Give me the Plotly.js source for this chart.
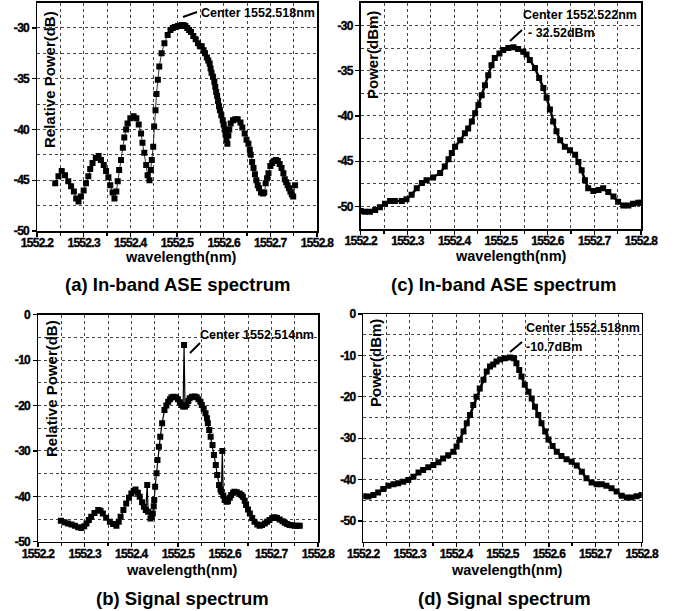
<!DOCTYPE html>
<html>
<head>
<meta charset="utf-8">
<script src="https://cdn.plot.ly/plotly-3.0.1.min.js"></script>
<style>
html,body{margin:0;padding:0;background:#fff;}
#chart{width:687px;height:611px;}
.xaxislayer-above text, .yaxislayer-above text, .xtick text, .ytick text {
  letter-spacing: -0.7px; font-weight: 700 !important; stroke: #000; stroke-width: 0.35px;
}
</style>
</head>
<body>
<div id="chart"></div>
<script>
// ---------- data (a) In-band ASE spectrum, relative power ----------
var aWavelength = [1552.239,1552.246,1552.253,1552.260,1552.267,1552.273,1552.279,1552.284,1552.289,1552.294,1552.300,1552.305,1552.310,1552.314,1552.319,1552.326,1552.332,1552.337,1552.343,1552.348,1552.353,1552.357,1552.362,1552.366,1552.370,1552.373,1552.376,1552.380,1552.384,1552.387,1552.391,1552.394,1552.400,1552.407,1552.413,1552.418,1552.423,1552.426,1552.430,1552.434,1552.437,1552.441,1552.444,1552.446,1552.449,1552.451,1552.454,1552.456,1552.459,1552.462,1552.467,1552.473,1552.480,1552.486,1552.491,1552.495,1552.498,1552.502,1552.506,1552.510,1552.514,1552.518,1552.522,1552.526,1552.530,1552.535,1552.540,1552.545,1552.549,1552.553,1552.557,1552.560,1552.564,1552.567,1552.570,1552.572,1552.574,1552.577,1552.580,1552.582,1552.584,1552.586,1552.588,1552.590,1552.592,1552.595,1552.598,1552.600,1552.602,1552.604,1552.606,1552.608,1552.610,1552.612,1552.615,1552.620,1552.625,1552.630,1552.636,1552.640,1552.645,1552.649,1552.653,1552.656,1552.658,1552.661,1552.664,1552.667,1552.670,1552.673,1552.676,1552.680,1552.684,1552.687,1552.690,1552.693,1552.696,1552.700,1552.704,1552.708,1552.712,1552.716,1552.720,1552.724,1552.728,1552.731,1552.734,1552.737,1552.740,1552.743,1552.746,1552.749,1552.753];
var aPower = [-45.3,-44.6,-44.1,-44.5,-45.1,-45.6,-46.1,-46.8,-47.1,-46.6,-46.0,-45.3,-44.6,-43.9,-43.3,-42.8,-42.6,-43.0,-43.5,-44.1,-44.7,-45.5,-46.2,-46.8,-46.1,-45.1,-44.0,-43.0,-41.8,-40.8,-40.0,-39.4,-38.9,-38.7,-38.9,-39.5,-40.4,-41.3,-42.3,-43.5,-44.5,-45.0,-44.0,-43.0,-41.7,-39.7,-38.1,-36.5,-35.1,-33.8,-32.5,-31.5,-30.7,-30.2,-30.0,-29.9,-29.9,-29.8,-29.8,-29.7,-29.7,-29.8,-30.0,-30.2,-30.4,-30.8,-31.1,-31.5,-31.8,-31.8,-32.2,-32.5,-32.9,-33.2,-33.5,-34.0,-34.4,-34.8,-35.3,-35.8,-36.3,-36.7,-37.2,-37.7,-38.1,-38.6,-39.1,-39.5,-40.0,-40.5,-41.0,-41.4,-40.6,-40.0,-39.4,-39.1,-39.0,-39.0,-39.3,-39.8,-40.4,-41.0,-41.4,-42.0,-42.5,-43.2,-43.8,-44.4,-45.0,-45.5,-45.8,-46.2,-46.3,-46.2,-45.3,-44.8,-44.3,-43.6,-43.3,-43.1,-43.0,-43.1,-43.4,-43.8,-44.3,-44.9,-45.2,-45.5,-45.8,-46.1,-46.4,-46.6,-45.5];

// ---------- data (b) Signal spectrum, relative power ----------
var bWavelength = [1552.249,1552.257,1552.264,1552.272,1552.279,1552.286,1552.293,1552.299,1552.304,1552.309,1552.314,1552.321,1552.329,1552.334,1552.339,1552.346,1552.354,1552.361,1552.368,1552.373,1552.377,1552.383,1552.389,1552.395,1552.400,1552.405,1552.409,1552.414,1552.418,1552.423,1552.427,1552.431,1552.434,1552.436,1552.441,1552.444,1552.446,1552.448,1552.449,1552.451,1552.454,1552.456,1552.459,1552.462,1552.466,1552.471,1552.475,1552.479,1552.483,1552.486,1552.491,1552.496,1552.500,1552.504,1552.508,1552.511,1552.513,1552.515,1552.518,1552.522,1552.525,1552.530,1552.536,1552.540,1552.544,1552.548,1552.551,1552.555,1552.559,1552.562,1552.564,1552.567,1552.570,1552.574,1552.577,1552.581,1552.584,1552.588,1552.591,1552.593,1552.595,1552.597,1552.600,1552.604,1552.607,1552.611,1552.614,1552.618,1552.621,1552.626,1552.632,1552.636,1552.639,1552.643,1552.646,1552.650,1552.654,1552.659,1552.664,1552.670,1552.675,1552.680,1552.686,1552.691,1552.696,1552.702,1552.707,1552.712,1552.718,1552.724,1552.729,1552.734,1552.739,1552.745,1552.750,1552.756,1552.761];
var bPower = [-45.4,-45.7,-46.0,-46.2,-46.5,-46.8,-47.0,-46.6,-46.0,-45.2,-44.5,-43.7,-43.0,-43.2,-43.8,-44.7,-45.6,-46.1,-46.5,-45.6,-44.5,-43.0,-41.6,-40.3,-39.4,-38.8,-38.5,-39.2,-40.1,-41.3,-42.3,-43.0,-37.5,-43.4,-44.9,-44.5,-43.8,-42.2,-40.8,-37.9,-34.9,-32.0,-29.1,-26.9,-23.9,-21.0,-20.0,-19.2,-18.6,-18.2,-18.1,-18.2,-18.6,-19.3,-19.9,-20.2,-6.7,-20.2,-19.9,-19.0,-18.4,-18.1,-18.0,-18.2,-18.6,-19.2,-19.9,-20.7,-21.7,-22.8,-23.9,-25.4,-26.9,-28.7,-30.9,-33.1,-35.3,-37.5,-38.5,-39.0,-30.0,-39.8,-40.8,-41.2,-41.1,-40.3,-39.7,-39.2,-39.0,-39.1,-39.4,-39.7,-40.1,-41.0,-41.9,-42.9,-43.8,-44.8,-45.6,-46.2,-46.5,-46.3,-46.0,-45.6,-45.2,-44.8,-44.6,-44.8,-45.1,-45.5,-45.8,-46.1,-46.3,-46.4,-46.5,-46.5,-46.5];

// ---------- data (c) In-band ASE spectrum, power ----------
var cWavelength = [1552.200,1552.209,1552.220,1552.231,1552.241,1552.252,1552.263,1552.273,1552.288,1552.298,1552.309,1552.320,1552.331,1552.341,1552.355,1552.370,1552.380,1552.388,1552.395,1552.402,1552.413,1552.423,1552.430,1552.438,1552.445,1552.452,1552.459,1552.466,1552.473,1552.480,1552.487,1552.497,1552.505,1552.516,1552.527,1552.537,1552.548,1552.555,1552.562,1552.573,1552.582,1552.591,1552.598,1552.605,1552.612,1552.619,1552.627,1552.637,1552.648,1552.659,1552.666,1552.673,1552.680,1552.687,1552.698,1552.709,1552.719,1552.730,1552.741,1552.751,1552.762,1552.773,1552.783,1552.794,1552.800];
var cPower = [-50.5,-50.6,-50.6,-50.4,-50.1,-49.7,-49.4,-49.4,-49.4,-49.2,-48.7,-48.0,-47.4,-47.1,-46.8,-46.3,-45.6,-44.8,-44.1,-43.4,-42.7,-41.9,-41.4,-40.6,-39.7,-38.8,-37.7,-36.6,-35.5,-34.4,-33.6,-33.1,-32.7,-32.5,-32.4,-32.6,-32.9,-33.2,-33.8,-34.7,-35.8,-36.9,-38.0,-39.3,-40.6,-41.7,-42.7,-43.4,-43.8,-44.3,-45.1,-46.0,-47.1,-48.0,-48.3,-48.2,-48.0,-48.4,-48.9,-49.5,-49.9,-49.9,-49.7,-49.6,-49.6];

// ---------- data (d) Signal spectrum, power ----------
var dWavelength = [1552.200,1552.211,1552.222,1552.232,1552.243,1552.254,1552.265,1552.275,1552.286,1552.297,1552.308,1552.319,1552.329,1552.340,1552.351,1552.362,1552.372,1552.383,1552.394,1552.401,1552.408,1552.416,1552.423,1552.430,1552.437,1552.444,1552.451,1552.459,1552.466,1552.473,1552.480,1552.487,1552.495,1552.505,1552.516,1552.525,1552.530,1552.536,1552.541,1552.548,1552.556,1552.563,1552.570,1552.577,1552.584,1552.592,1552.599,1552.608,1552.617,1552.627,1552.638,1552.649,1552.660,1552.671,1552.681,1552.692,1552.703,1552.714,1552.724,1552.735,1552.746,1552.757,1552.768,1552.778,1552.789,1552.800];
var dPower = [-44.0,-44.1,-43.7,-43.1,-42.3,-41.5,-41.1,-40.9,-40.5,-40.1,-39.3,-38.3,-37.7,-37.0,-36.5,-35.8,-34.9,-34.1,-33.3,-32.0,-30.4,-28.4,-26.4,-24.4,-22.0,-20.0,-18.0,-15.9,-13.9,-12.7,-12.2,-11.5,-11.0,-10.7,-10.5,-10.7,-11.9,-13.5,-15.1,-17.1,-18.8,-20.4,-22.4,-24.4,-26.4,-28.4,-30.3,-31.9,-33.3,-34.3,-35.1,-35.7,-36.6,-38.1,-39.7,-40.7,-41.1,-41.1,-41.5,-42.1,-42.9,-43.9,-44.3,-44.3,-44.0,-43.7];

// ---------- tick values / labels ----------
var xTickVals = [1552.2, 1552.3, 1552.4, 1552.5, 1552.6, 1552.7, 1552.8];
var xTickLabels = ["1552.2", "1552.3", "1552.4", "1552.5", "1552.6", "1552.7", "1552.8"];
var yTickValsAC = [-50, -45, -40, -35, -30];
var yTickLabelsAC = ["-50", "-45", "-40", "-35", "-30"];
var yTickValsBD = [-50, -40, -30, -20, -10, 0];
var yTickLabelsBD = ["-50", "-40", "-30", "-20", "-10", "0"];

// ---------- text ----------
var xTitle = "wavelength(nm)";
var yTitles = ["Relative Power(dB)", "Relative Power(dB)", "Power(dBm)", "Power(dBm)"];
var captions = ["(a) In-band ASE spectrum", "(b) Signal spectrum", "(c) In-band ASE spectrum", "(d) Signal spectrum"];
var centerLabels = ["Center 1552.518nm", "Center 1552.514nm", "Center 1552.522nm", "Center 1552.518nm"];
var peakLabels = ["- 32.52dBm", "-10.7dBm"];

// ---------- layout ----------
var W = 687, H = 611;
function px(x){ return x / W; }
function py(y){ return 1 - y / H; }
function bold(arr){ return arr.map(function(s){ return '<b>' + s + '</b>'; }); }
var NARROW = "Liberation Sans Narrow, Arial Narrow, Liberation Sans, Arial, sans-serif";
var WIDE = "Liberation Sans, Arial, sans-serif";

function mkTrace(x, y, xa, ya, lw, ms){
  return {x: x, y: y, xaxis: xa, yaxis: ya, type: 'scatter', mode: 'lines+markers',
    line: {color: '#000', width: lw}, marker: {symbol: 'square', size: ms, color: '#000'},
    hoverinfo: 'skip', showlegend: false};
}
var data = [
  mkTrace(aWavelength, aPower, 'x', 'y', 0.8, 6),
  mkTrace(bWavelength, bPower, 'x2', 'y2', 1.2, 6),
  mkTrace(cWavelength, cPower, 'x3', 'y3', 2.5, 6),
  mkTrace(dWavelength, dPower, 'x4', 'y4', 2.5, 6)
];

var gridC = '#444';
var tickFont = {family: WIDE, size: 12, color: '#000', weight: 700};
function xAxis(dom, anchor){
  return {domain: dom, anchor: anchor, range: [1552.2, 1552.8],
    tickmode: 'array', tickvals: xTickVals, ticktext: bold(xTickLabels),
    showline: true, linecolor: '#000', linewidth: 1.5, mirror: true,
    ticks: 'outside', ticklen: 4, tickwidth: 1.2, tickcolor: '#000',
    showgrid: true, gridcolor: gridC, griddash: 'dot', gridwidth: 1, zeroline: false,
    minor: {dtick: 0.05, tick0: 1552.2, showgrid: true, gridcolor: gridC, griddash: 'dot', gridwidth: 1, ticks: 'outside', ticklen: 3, tickcolor: '#000'},
    tickfont: tickFont, ticklabelstandoff: -4, fixedrange: true};
}
function yAxis(dom, anchor, range, vals, labels, minor){
  return {domain: dom, anchor: anchor, range: range,
    tickmode: 'array', tickvals: vals, ticktext: bold(labels),
    showline: true, linecolor: '#000', linewidth: 1.5, mirror: true,
    ticks: 'outside', ticklen: 4, tickwidth: 1.2, tickcolor: '#000',
    showgrid: true, gridcolor: gridC, griddash: 'dot', gridwidth: 1, zeroline: false,
    minor: {dtick: minor, tick0: 0, showgrid: true, gridcolor: gridC, griddash: 'dot', gridwidth: 1},
    tickfont: tickFont, ticklabelstandoff: 0, fixedrange: true};
}

var layout = {
  width: W, height: H, margin: {l: 0, r: 0, t: 0, b: 0},
  paper_bgcolor: '#fff', plot_bgcolor: '#fff', showlegend: false,
  xaxis:  xAxis([px(37), px(317)], 'y'),
  yaxis:  yAxis([py(231), py(2.6)], 'x', [-50, -27.5], yTickValsAC, yTickLabelsAC, 2.5),
  xaxis2: xAxis([px(38), px(318)], 'y2'),
  yaxis2: yAxis([py(541.7), py(314.7)], 'x2', [-50, 0], yTickValsBD, yTickLabelsBD, 5),
  xaxis3: xAxis([px(360.7), px(641)], 'y3'),
  yaxis3: yAxis([py(229), py(2.9)], 'x3', [-52.5, -27.5], yTickValsAC, yTickLabelsAC, 2.5),
  xaxis4: xAxis([px(363.3), px(641.7)], 'y4'),
  yaxis4: yAxis([py(541.7), py(314)], 'x4', [-55, 0], yTickValsBD, yTickLabelsBD, 5),
  annotations: [],
  shapes: []
};

function ann(text, x, y, opts){
  var a = {text: text, x: px(x), y: py(y), xref: 'paper', yref: 'paper', showarrow: false,
    xanchor: 'center', yanchor: 'middle', font: {family: WIDE, size: 14.5, color: '#000', weight: 700}};
  for (var k in opts){ a[k] = opts[k]; }
  return a;
}
var yTitleFont = {family: WIDE, size: 15, color: '#000', weight: 700};
layout.annotations.push(ann(yTitles[0], 49, 80, {textangle: -90, font: yTitleFont}));
layout.annotations.push(ann(yTitles[1], 51, 389, {textangle: -90, font: yTitleFont}));
layout.annotations.push(ann(yTitles[2], 372, 55, {textangle: -90, font: yTitleFont}));
layout.annotations.push(ann(yTitles[3], 375, 363, {textangle: -90, font: yTitleFont}));
// x titles
layout.annotations.push(ann(xTitle, 181, 257, {}));
layout.annotations.push(ann(xTitle, 182, 570, {}));
layout.annotations.push(ann(xTitle, 511, 256, {}));
layout.annotations.push(ann(xTitle, 507, 570, {}));
// captions
var capFont = {family: WIDE, size: 18.5, color: '#000', weight: 700};
layout.annotations.push(ann(captions[0], 178, 285, {font: capFont}));
layout.annotations.push(ann(captions[1], 182, 598, {font: capFont}));
layout.annotations.push(ann(captions[2], 503, 285, {font: capFont}));
layout.annotations.push(ann(captions[3], 504, 598, {font: capFont}));
// center notes
var noteFont = {family: NARROW, size: 12.5, color: '#000', weight: 700};
layout.annotations.push(ann(centerLabels[0], 199, 13, {xanchor: 'left', font: noteFont}));
layout.annotations.push(ann(centerLabels[1], 198, 335, {xanchor: 'left', font: noteFont}));
layout.annotations.push(ann(centerLabels[2], 521, 15, {xanchor: 'left', font: noteFont}));
layout.annotations.push(ann(peakLabels[0], 526, 33, {xanchor: 'left', font: noteFont}));
layout.annotations.push(ann(centerLabels[3], 524, 328, {xanchor: 'left', font: noteFont}));
layout.annotations.push(ann(peakLabels[1], 524, 347, {xanchor: 'left', font: noteFont}));
// leader lines
function lead(x0, y0, x1, y1){
  return {type: 'line', xref: 'paper', yref: 'paper', x0: px(x0), y0: py(y0), x1: px(x1), y1: py(y1), line: {color: '#000', width: 2}};
}
layout.shapes.push(lead(183, 17, 197, 12));
layout.shapes.push(lead(190, 353, 200, 343));
layout.shapes.push(lead(510, 41, 522, 30));
layout.shapes.push(lead(510, 352, 522, 342));

Plotly.newPlot('chart', data, layout, {displayModeBar: false, staticPlot: true});
</script>
</body>
</html>
